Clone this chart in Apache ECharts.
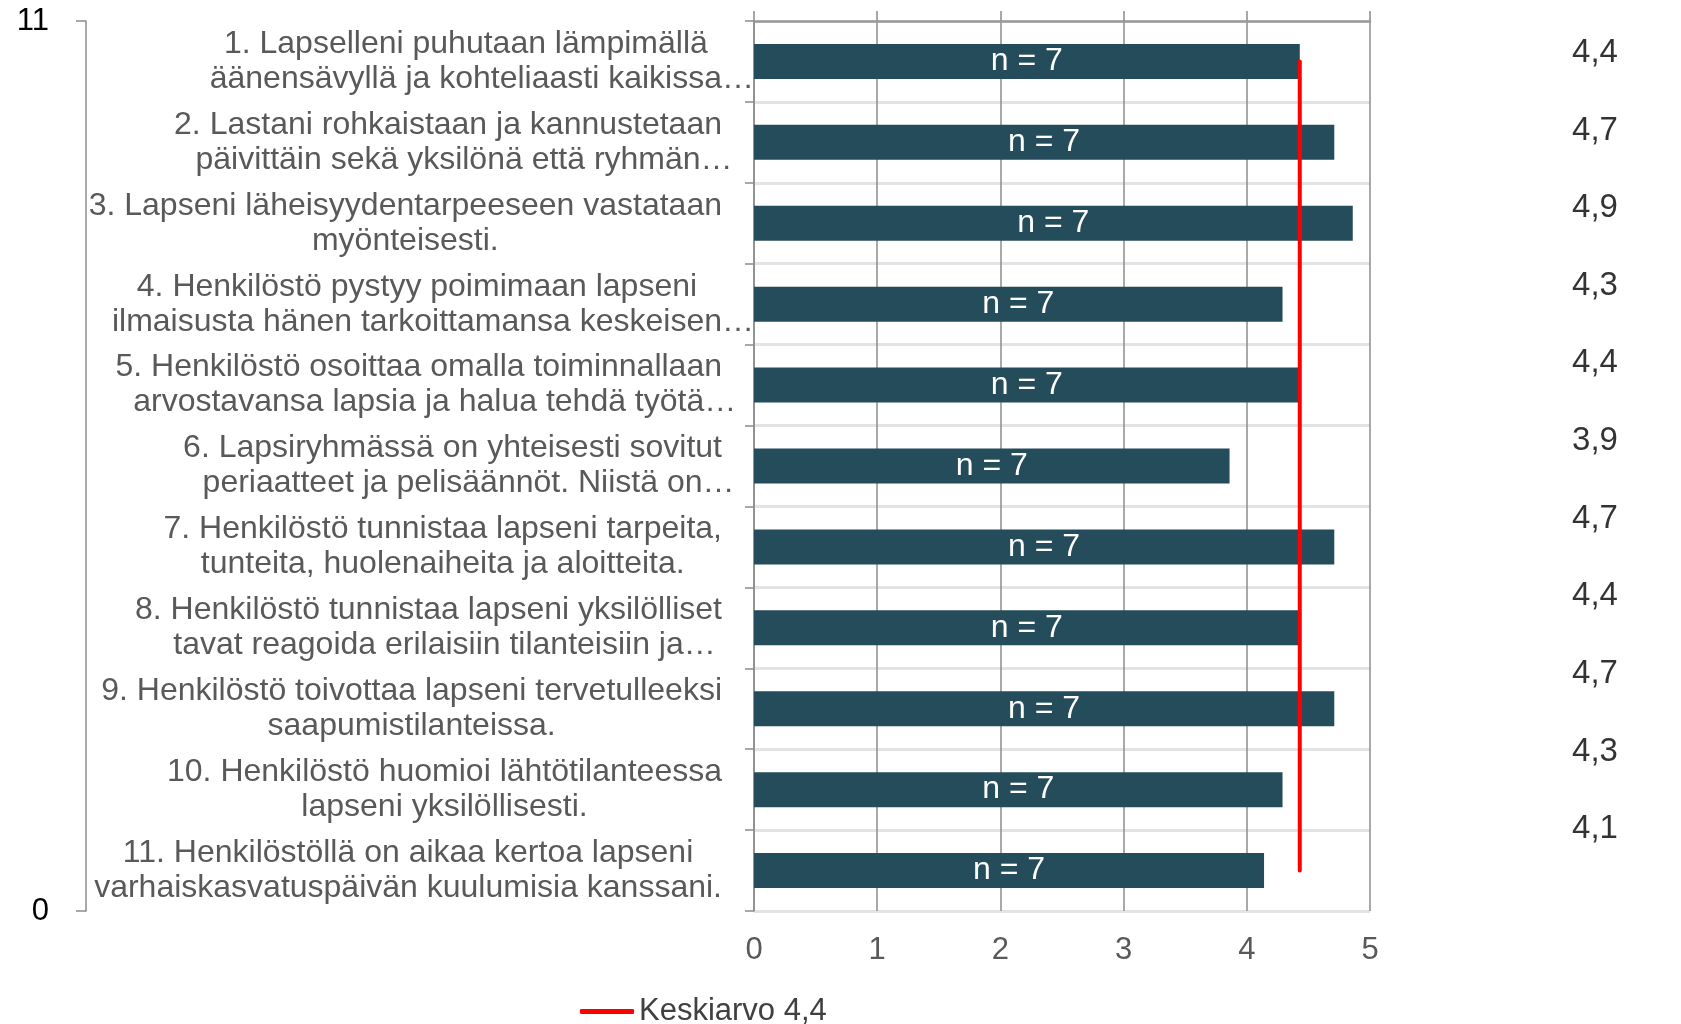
<!DOCTYPE html>
<html>
<head>
<meta charset="utf-8">
<script src="https://cdn.jsdelivr.net/npm/echarts@6/dist/echarts.min.js"></script>
<style>
html, body { margin: 0; padding: 0; background: #fff; }
#chart { width: 1681px; height: 1024px; }
</style>
</head>
<body>
<div id="chart"></div>
<script>
// kysymykset, rivitetty kuten alkuperäisessä kuvassa
var questions = [
    '1. Lapselleni puhutaan lämpimällä\näänensävyllä ja kohteliaasti kaikissa…',
    '2. Lastani rohkaistaan ja kannustetaan\npäivittäin sekä yksilönä että ryhmän…',
    '3. Lapseni läheisyydentarpeeseen vastataan\nmyönteisesti.',
    '4. Henkilöstö pystyy poimimaan lapseni\nilmaisusta hänen tarkoittamansa keskeisen…',
    '5. Henkilöstö osoittaa omalla toiminnallaan\narvostavansa lapsia ja halua tehdä työtä…',
    '6. Lapsiryhmässä on yhteisesti sovitut\nperiaatteet ja pelisäännöt. Niistä on…',
    '7. Henkilöstö tunnistaa lapseni tarpeita,\ntunteita, huolenaiheita ja aloitteita.',
    '8. Henkilöstö tunnistaa lapseni yksilölliset\ntavat reagoida erilaisiin tilanteisiin ja…',
    '9. Henkilöstö toivottaa lapseni tervetulleeksi\nsaapumistilanteissa.',
    '10. Henkilöstö huomioi lähtötilanteessa\nlapseni yksilöllisesti.',
    '11. Henkilöstöllä on aikaa kertoa lapseni\nvarhaiskasvatuspäivän kuulumisia kanssani.'
];
// keskiarvot (n = 7)
var averages = [4.43, 4.71, 4.86, 4.29, 4.43, 3.86, 4.71, 4.43, 4.71, 4.29, 4.14];
var counts = [7, 7, 7, 7, 7, 7, 7, 7, 7, 7, 7];
// kokonaiskeskiarvon viiva (x = keskiarvo, y = apuakseli 0..11)
var meanName = 'Keskiarvo 4,4';
var meanLine = [[4.43, 10.5], [4.43, 0.5]];
var xMin = 0, xMax = 5, xStep = 1;
var yMin = 0, yMax = 11;

var FONT = '"Liberation Sans", Arial, sans-serif';
var GRAY = '#595959';
var LINE = '#8c8c8c';

var chart = echarts.init(document.getElementById('chart'));

// rivit keskitetään lohkon sisällä; "…" ei kasvata riviä (kuten Excelissä)
function wrapLabel(txt) {
    return txt.split('\n').map(function (l) {
        if (l.charAt(l.length - 1) === '…') {
            return '{c|' + l.slice(0, -1) + '}{e|…}';
        }
        return '{c|' + l + '}';
    }).join('\n');
}
function fmtComma(v) {
    return v.toFixed(1).replace('.', ',');
}

var option = {
    backgroundColor: '#fff',
    animation: false,
    textStyle: { fontFamily: FONT },
    legend: {
        data: [meanName],
        left: 575,
        top: 991,
        itemWidth: 54,
        itemHeight: 5,
        icon: 'roundRect',
        textStyle: { fontSize: 31, color: '#404040', fontFamily: FONT }
    },
    grid: [
        { left: 754, right: 311, top: 21, bottom: 113 },
        { left: 1560, width: 70, top: 14, height: 854 }
    ],
    xAxis: [
        {
            type: 'value', gridIndex: 0, position: 'bottom',
            min: xMin, max: xMax, interval: xStep,
            axisLine: { show: false },
            axisTick: { show: false },
            axisLabel: { color: GRAY, fontSize: 31, margin: 24, fontFamily: FONT },
            splitLine: { show: true, lineStyle: { color: LINE, width: 1.5 } }
        },
        {
            type: 'value', gridIndex: 0, position: 'top',
            min: xMin, max: xMax, interval: xStep,
            axisLine: { show: true, onZero: false, lineStyle: { color: '#9a9a9a', width: 2.5 } },
            axisTick: { show: true, length: 10, lineStyle: { color: LINE, width: 1.5 } },
            axisLabel: { show: false },
            splitLine: { show: false }
        },
        {
            type: 'value', gridIndex: 1, min: 0, max: 1, show: false
        }
    ],
    yAxis: [
        {
            type: 'category', gridIndex: 0, data: questions, inverse: true,
            axisLine: { show: true, onZero: false, lineStyle: { color: LINE, width: 1.5 } },
            axisTick: { show: true, length: 9, lineStyle: { color: LINE, width: 1.5 } },
            axisLabel: {
                margin: 32,
                formatter: wrapLabel,
                rich: {
                    c: { align: 'center', fontSize: 32, lineHeight: 35, color: GRAY, fontFamily: FONT },
                    e: { align: 'center', width: 0, padding: [0, -16, 0, 16], fontSize: 32, lineHeight: 35, color: GRAY, fontFamily: FONT }
                }
            },
            splitLine: { show: true, lineStyle: { color: '#e3e3e3', width: 3 } }
        },
        {
            type: 'value', gridIndex: 0, position: 'left', offset: 668,
            min: yMin, max: yMax, interval: yMax,
            axisLine: { show: true, onZero: false, lineStyle: { color: LINE, width: 1.5 } },
            axisTick: { show: true, length: 10, lineStyle: { color: LINE, width: 1.5 } },
            axisLabel: { color: '#000', fontSize: 31, margin: 37, fontFamily: FONT },
            splitLine: { show: false }
        },
        {
            type: 'category', gridIndex: 1, data: questions, inverse: true, show: false
        }
    ],
    series: [
        {
            name: 'n',
            type: 'bar',
            xAxisIndex: 0, yAxisIndex: 0,
            data: averages,
            barWidth: 35,
            itemStyle: { color: '#244c5a' },
            label: {
                show: true, position: 'inside', color: '#fff', fontSize: 32, fontFamily: FONT,
                formatter: function (p) { return 'n = ' + counts[p.dataIndex]; }
            },
            z: 3
        },
        {
            name: meanName,
            type: 'line',
            xAxisIndex: 0, yAxisIndex: 1,
            data: meanLine,
            symbol: 'none',
            itemStyle: { color: '#ff0000' },
            lineStyle: { color: '#ff0000', width: 4, cap: 'round' },
            z: 5
        },
        {
            name: 'arvot',
            type: 'scatter',
            xAxisIndex: 2, yAxisIndex: 2,
            data: averages.map(function (v, i) { return [0.5, i]; }),
            symbolSize: 1,
            itemStyle: { color: 'rgba(0,0,0,0)' },
            label: {
                show: true, position: 'inside', color: '#000', fontSize: 33, fontFamily: FONT,
                formatter: function (p) { return fmtComma(averages[p.dataIndex]); }
            }
        }
    ]
};
chart.setOption(option);
</script>
</body>
</html>
